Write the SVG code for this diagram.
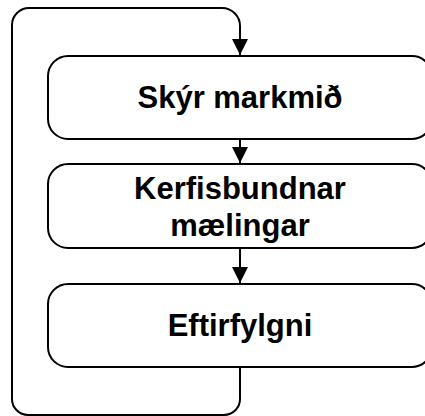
<svg xmlns="http://www.w3.org/2000/svg" width="425" height="416" viewBox="0 0 425 416">
<style>
.box{fill:#fff;stroke:#000;stroke-width:2}
.lbl{font-family:"Liberation Sans",Arial,sans-serif;font-weight:bold;font-size:31px;fill:#000;text-anchor:middle}
.con{fill:none;stroke:#000;stroke-width:2}
</style>
<defs>
<marker id="ah" viewBox="0 0 16 16" refX="16" refY="8" markerWidth="16" markerHeight="16" markerUnits="userSpaceOnUse" orient="auto">
<path d="M0,0 L16,8 L0,16 z" fill="#000"/>
</marker>
</defs>
<g id="connectors">
<path class="con" d="M240,367 V399 A16,16 0 0 1 224,415 H28 A16,16 0 0 1 12,399 V25 A17,17 0 0 1 29,8 H222 A18,18 0 0 1 240,26 V55" marker-end="url(#ah)"/>
<path class="con" d="M240,139 V163" marker-end="url(#ah)"/>
<path class="con" d="M240,248 V283" marker-end="url(#ah)"/>
</g>
<g id="node1">
<rect class="box" x="48" y="56" width="384" height="83" rx="20"/>
<text class="lbl" x="240" y="107.5">Skýr markmið</text>
</g>
<g id="node2">
<rect class="box" x="48" y="164" width="384" height="84" rx="20"/>
<text class="lbl" x="240" y="199">Kerfisbundnar</text>
<text class="lbl" x="240" y="236">mælingar</text>
</g>
<g id="node3">
<rect class="box" x="48" y="284" width="384" height="83" rx="20"/>
<text class="lbl" x="240" y="335.5">Eftirfylgni</text>
</g>
</svg>
